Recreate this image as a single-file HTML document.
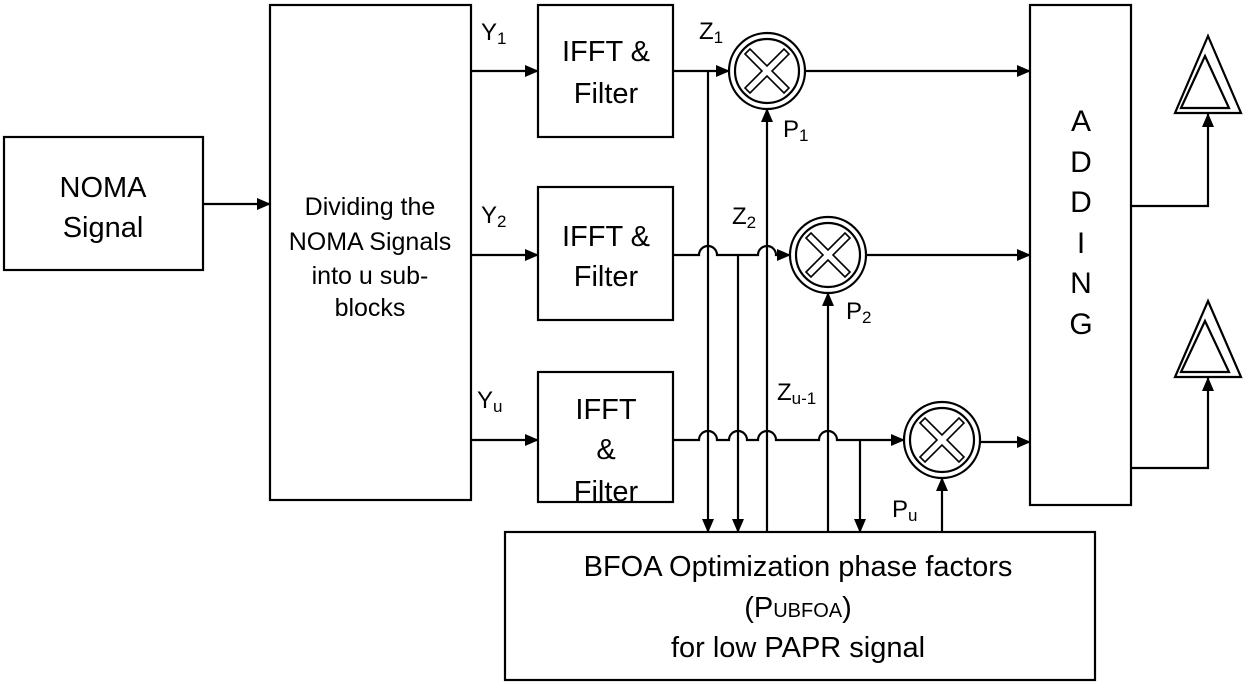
<!DOCTYPE html>
<html><head><meta charset="utf-8"><style>
html,body{margin:0;padding:0;background:#fff;}
svg{display:block;}
text{font-family:"Liberation Sans",Arial,sans-serif;fill:#000;}
</style></head><body>
<svg width="1245" height="685" viewBox="0 0 1245 685" xmlns="http://www.w3.org/2000/svg">
<defs>
<marker id="a" markerWidth="14" markerHeight="12" refX="13" refY="6" orient="auto" markerUnits="userSpaceOnUse">
<path d="M0,0 L14,6 L0,12 Z" fill="#000"/></marker>
</defs>
<g fill="none" stroke="#000" stroke-width="2.2">
<rect x="4" y="137" width="199" height="133"/>
<rect x="270" y="5" width="201" height="495"/>
<rect x="538" y="5" width="135" height="132"/>
<rect x="538" y="187" width="135" height="133"/>
<rect x="538" y="372" width="135" height="130"/>
<rect x="1030" y="5" width="101" height="500"/>
<rect x="505" y="532" width="590" height="148"/>
<line x1="203" y1="204" x2="270" y2="204" marker-end="url(#a)"/>
<line x1="471" y1="71" x2="538" y2="71" marker-end="url(#a)"/>
<line x1="471" y1="255" x2="538" y2="255" marker-end="url(#a)"/>
<line x1="471" y1="440" x2="538" y2="440" marker-end="url(#a)"/>
<line x1="673" y1="71" x2="729" y2="71" marker-end="url(#a)"/>
<line x1="805" y1="71" x2="1030" y2="71" marker-end="url(#a)"/>
<path d="M673,255 H699 A9,9 0 0 1 717,255 H758 A9,9 0 0 1 776,255 H790" marker-end="url(#a)"/>
<line x1="866" y1="255" x2="1030" y2="255" marker-end="url(#a)"/>
<path d="M673,440 H699 A9,9 0 0 1 717,440 H729 A9,9 0 0 1 747,440 H758 A9,9 0 0 1 776,440 H819 A9,9 0 0 1 837,440 H904" marker-end="url(#a)"/>
<line x1="980" y1="442" x2="1030" y2="442" marker-end="url(#a)"/>
<line x1="708" y1="71" x2="708" y2="532" marker-end="url(#a)"/>
<line x1="738" y1="255" x2="738" y2="532" marker-end="url(#a)"/>
<line x1="767" y1="532" x2="767" y2="109" marker-end="url(#a)"/>
<line x1="828" y1="532" x2="828" y2="293" marker-end="url(#a)"/>
<line x1="860" y1="440" x2="860" y2="532" marker-end="url(#a)"/>
<line x1="942" y1="532" x2="942" y2="478" marker-end="url(#a)"/>
<polyline points="1131,206 1208,206 1208,114" marker-end="url(#a)"/>
<polyline points="1131,468 1208,468 1208,378" marker-end="url(#a)"/>
</g>
<g fill="none" stroke="#000" stroke-width="2.2">
<g transform="translate(767,71)"><circle r="38"/><circle r="32"/>
<path d="M-22,-17 L-17,-22 L0,-5 L17,-22 L22,-17 L5,0 L22,17 L17,22 L0,5 L-17,22 L-22,17 L-5,0 Z" stroke-width="1.6"/></g>
<g transform="translate(828,255)"><circle r="38"/><circle r="32"/>
<path d="M-22,-17 L-17,-22 L0,-5 L17,-22 L22,-17 L5,0 L22,17 L17,22 L0,5 L-17,22 L-22,17 L-5,0 Z" stroke-width="1.6"/></g>
<g transform="translate(942,440)"><circle r="38"/><circle r="32"/>
<path d="M-22,-17 L-17,-22 L0,-5 L17,-22 L22,-17 L5,0 L22,17 L17,22 L0,5 L-17,22 L-22,17 L-5,0 Z" stroke-width="1.6"/></g>
<path d="M1208,36 L1241,113 L1175,113 Z"/>
<path d="M1205,56 L1229,108 L1181,108 Z"/>
<path d="M1208,301 L1241,377 L1175,377 Z"/>
<path d="M1205,321 L1229,372 L1181,372 Z"/>
</g>
<g font-size="29" text-anchor="middle">
<text x="103" y="197">NOMA</text>
<text x="103" y="237">Signal</text>
<text x="606" y="61">IFFT &amp;</text>
<text x="606" y="103">Filter</text>
<text x="606" y="246">IFFT &amp;</text>
<text x="606" y="286">Filter</text>
<text x="606" y="419">IFFT</text>
<text x="606" y="459">&amp;</text>
<text x="606" y="501">Filter</text>
</g>
<g font-size="25" text-anchor="middle">
<text x="370" y="215">Dividing the</text>
<text x="370" y="250">NOMA Signals</text>
<text x="370" y="284">into u sub-</text>
<text x="370" y="316">blocks</text>
</g>
<g font-size="30" text-anchor="middle">
<text x="1081" y="131">A</text>
<text x="1081" y="172">D</text>
<text x="1081" y="212">D</text>
<text x="1081" y="253">I</text>
<text x="1081" y="293">N</text>
<text x="1081" y="334">G</text>
</g>
<g font-size="29" text-anchor="middle">
<text x="798" y="576">BFOA Optimization phase factors</text>
<text x="798" y="617">(P<tspan font-size="20">UBFOA</tspan>)</text>
<text x="798" y="657">for low PAPR signal</text>
</g>
<g font-size="24">
<text x="481" y="40">Y<tspan font-size="17" dy="4">1</tspan></text>
<text x="481" y="223">Y<tspan font-size="17" dy="4">2</tspan></text>
<text x="477" y="408">Y<tspan font-size="17" dy="4">u</tspan></text>
<text x="699" y="39">Z<tspan font-size="17" dy="4">1</tspan></text>
<text x="732" y="224">Z<tspan font-size="17" dy="4">2</tspan></text>
<text x="777" y="400">Z<tspan font-size="17" dy="4">u-1</tspan></text>
<text x="783" y="137">P<tspan font-size="17" dy="4">1</tspan></text>
<text x="846" y="319">P<tspan font-size="17" dy="4">2</tspan></text>
<text x="892" y="517">P<tspan font-size="17" dy="4">u</tspan></text>
</g>
</svg>
</body></html>
